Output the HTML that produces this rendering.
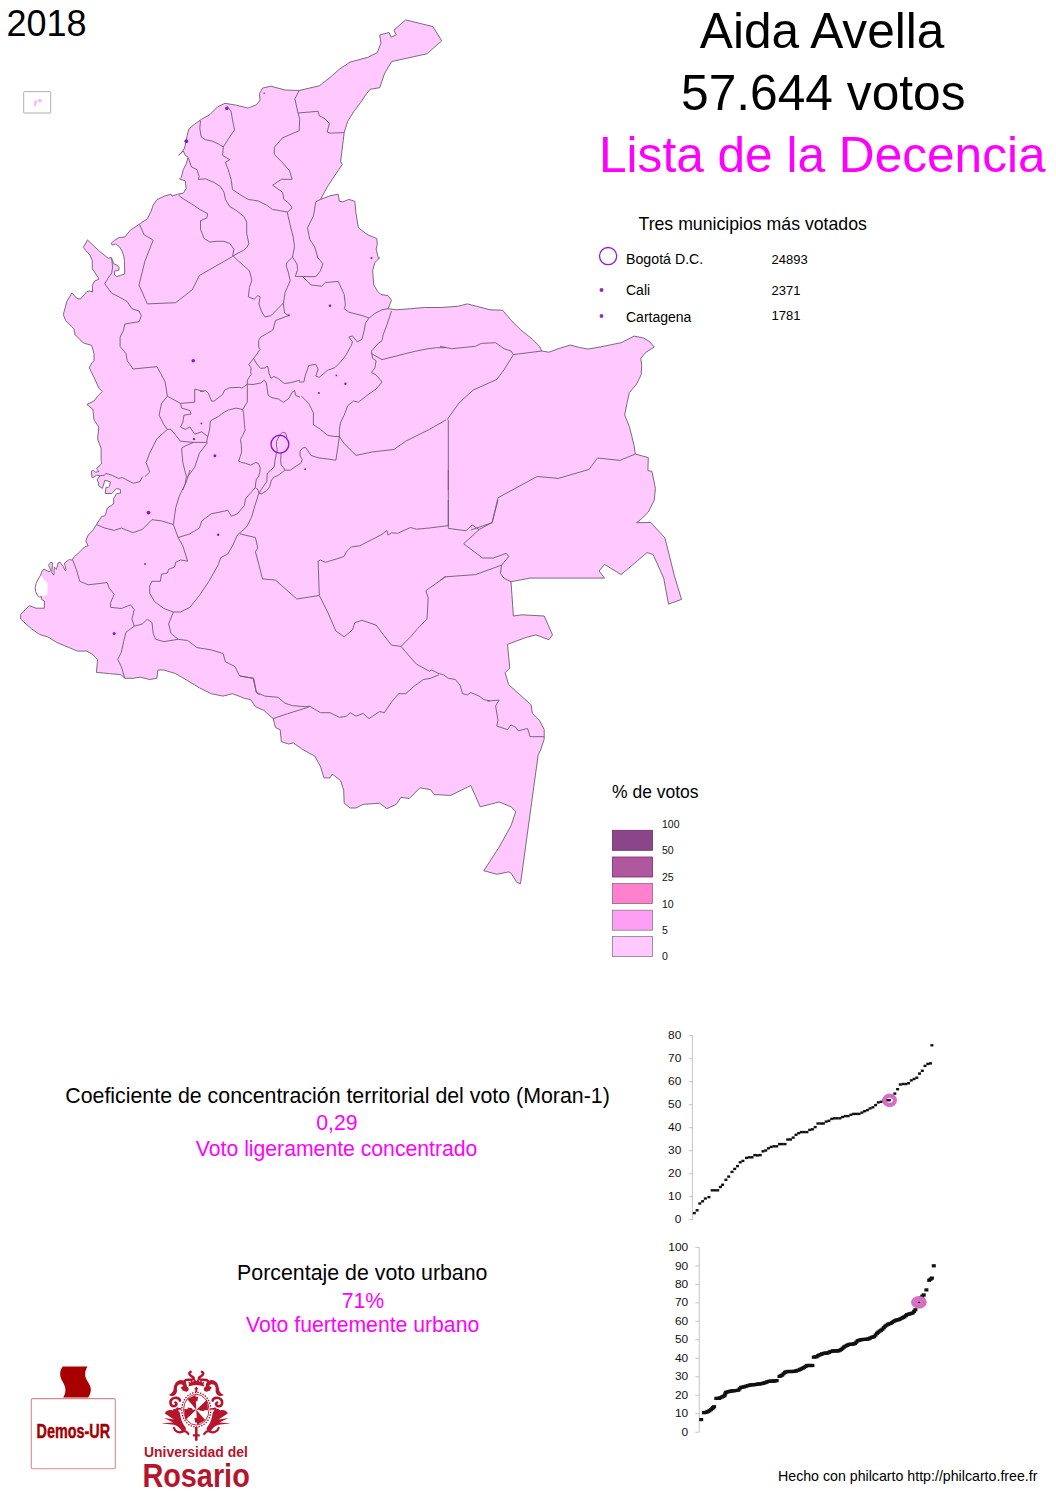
<!DOCTYPE html>
<html><head><meta charset="utf-8"><title>Aida Avella 2018</title>
<style>
html,body{margin:0;padding:0;background:#fff;}
svg{display:block;}
text{font-family:'Liberation Sans', Arial, sans-serif;}
.land{fill:#ffc8ff;stroke:none;}
.lagoon{fill:#fff;stroke:none;}
.coast{fill:none;stroke:#6e5a6e;stroke-width:0.9;stroke-linejoin:round;}
.b{fill:none;stroke:#6e5a6e;stroke-width:0.9;stroke-linejoin:round;}
.ax{font-size:10px;fill:#111;}
.lg{font-size:10.5px;fill:#111;}
</style></head>
<body>
<svg width="1056" height="1493" viewBox="0 0 1056 1493">
<rect width="1056" height="1493" fill="#fff"/>
<text x="6.5" y="35.8" font-size="36">2018</text>
<rect x="23.7" y="91.6" width="27" height="21.4" rx="0.6" fill="none" stroke="#999" stroke-width="0.8"/>
<ellipse cx="35.4" cy="103.3" rx="1.35" ry="3.3" transform="rotate(8 35.4 103.3)" fill="#ffb4ff"/>
<circle cx="39.8" cy="100.6" r="1.9" fill="#ffb4ff"/>
<g id="map">
<polygon class="land" points="249.5,107.5 256.6,104.7 260.1,100 259.4,94 262.5,88.1 270.8,86.2 285,90 299.2,90.5 319.3,85.8 330,77.5 339.4,69.2 350.1,62.1 367.8,57.3 377.3,52.6 380.9,43.1 379.7,34.9 389.1,32.5 391,37.2 396.2,34.9 393.9,30.1 405.7,19.9 432.9,26.6 441.7,40.8 427,53.8 391.5,61.6 384.4,73.9 379.7,87.7 370.2,89.3 365.5,95.2 360.7,102.3 353.6,111.8 347.7,121.3 344.2,132.6 340.6,161.5 342.3,164.4 334.7,175.7 327.6,186.4 320.5,199.4 330,195.8 338.2,194.2 339.4,201.3 343,201.8 348.9,199.4 354.8,201.3 356,213.6 358.4,227.8 367.8,234.9 376.8,238.5 377.3,244.4 376.1,249.1 378.5,258.6 379.7,257.8 374.9,262.5 372.6,270.8 373.8,285 377.3,290.9 380.9,294.5 388,295.6 391.5,300.4 388,308.7 396.2,309.8 410.5,308.7 424.7,307.5 441.2,307.5 457.8,306.3 467.3,303.9 476.7,306.3 490,309.8 502.7,310.3 511,320.2 520.5,329.7 532.3,339.2 539.4,346.3 541.8,351 548.9,352.2 558.4,348.7 570.2,345.1 579.7,347.5 588,349.1 601,346.8 621.1,342.7 634.1,336.1 643.6,338 649.5,341.6 654.3,347 646,352.2 640.8,358.1 641.7,365.2 641.2,374.7 636.5,384.2 629.4,392.5 627,403.1 624.7,414.9 629.4,426.8 631.8,436.2 634.1,445.7 635.3,454 648.3,457.6 647.9,470.6 651.9,471.3 655.4,488.3 654.3,500.2 648.3,512 641.2,519.1 636.5,522.7 650.7,522.5 664.9,537.9 668.5,552.1 674.4,575.8 681.5,599.4 668.5,604.2 663.7,578.1 653.1,554.5 647.1,552.6 621.1,574.6 604.5,564.4 599.1,571 604.5,578.1 530,578.1 511,581.7 513.4,616 521.7,614.8 544.2,616 552.5,634.9 548.9,639.7 535.9,634.9 526.4,637.3 507.5,644.4 509.8,668.1 505.1,672.8 508.7,684.7 531.1,704.8 532.3,713.1 539.4,720.2 544.2,729.6 544.2,739.1 540.6,750 538.2,754.7 520.5,883.7 516.9,882.5 511,873.1 508.7,871.9 496.8,874.3 483.8,870.7 499.2,847 511,825.7 515.8,811.5 511,806.8 499.2,802 480.2,806.8 470.8,785.5 450.7,795.4 434.1,794.5 430.6,789.7 419.9,787.8 409.3,798.5 401,797.3 396.2,804.4 386.8,808.7 379.7,803.2 363.1,804.4 356,808 350.1,808 344.2,803.2 343.7,790.2 340.6,780.7 332.3,774.1 330,777.9 324,777.9 320.5,766.5 314.6,755.9 309.8,753.5 301.6,748.8 293.3,742.9 288.5,744 281.4,741.7 280.2,729.8 275.5,727.5 273.1,718.6 263.7,710.3 255.4,706.7 250.7,699.6 244.7,698.5 242,697.3 232.5,693.7 223.1,696.1 211.2,693.7 199.4,687.8 187.6,680.7 175.7,673.6 163.9,670 158,670 156.8,678.3 149.7,679.5 140.2,677.1 133.1,678.3 124.8,678.3 121.3,674.8 109.4,673.6 96.4,672.4 97.6,659.4 92.9,654.7 86.9,651.1 77.5,651.1 69.2,647.6 57.3,642.8 47.9,636.9 39.6,634.5 31.3,628.6 20.7,619.1 20.7,614.4 25.2,609.7 29.2,605.7 36,608.2 44.3,608.2 44.5,601.1 41.4,599.4 41.4,596.6 39.4,597.2 37.2,594.9 35.5,591.5 35.2,587.5 36,583.5 38.3,579 40.6,575 42,571.3 44,569 47.4,571 49.1,571.6 51.1,570.5 48.5,565.3 50.8,562.2 52.5,562.8 51.9,572.2 52.8,574.4 53.9,575 54.2,567 56.5,569.3 58.2,562.8 59.9,562.2 63.3,566.5 65,570.5 66.1,569.9 64.4,563.1 69.5,559.4 71.8,560.2 74.7,556.2 77.5,554 81,550.5 84.6,546.9 88.1,545.8 85.8,541 88.1,535.1 92.9,530.4 96.4,524.5 101.9,516.2 104.4,516.2 105.6,514.5 107.3,508 113.5,504 113.8,498.1 116.9,493.5 120.6,493.2 120.3,489.5 116.4,488.4 111.8,493.5 105.3,493.5 105.9,487.6 108.4,487.3 109.5,486.1 110.4,481.9 105,480.2 102.4,488.4 98.2,485.3 98.8,483.3 97,479.9 100.2,475.6 96.5,475.3 92.5,477.9 91.9,477 91.4,471.1 93.4,470.2 95.3,472.2 98.8,471.6 96.5,468.5 101.3,464 101.6,462.8 101.1,460.2 101.1,448.3 97.6,438.9 98.8,427 94,419.9 92.9,409.3 86.9,404.5 94,401 97.6,396.2 102.3,391.5 98.8,388 94,377.3 89.3,367.8 91.7,363.1 94,360.7 94,353.6 91.7,345.4 83.4,343 75.1,334.7 73.9,328.8 65.6,320.5 63.3,314.6 66.8,301.6 71.9,292.9 77.1,298.6 80.4,299.1 87,291.5 89.9,291 92.7,292 92.3,285.3 94.6,281.1 98.9,279.2 98.4,277.8 92.3,268.8 92.3,260.7 89.9,255 83.3,247.5 87.5,239.9 98.4,250.3 106,256.5 108.4,258.4 111.2,257.4 112.1,259.8 114,264 116.9,265 119.2,267.8 118.8,270.2 114.5,271.1 114.5,274.9 116.9,276.6 120.2,275.4 124.7,274 124.5,261.7 123.8,256 122.1,251.2 119.2,246.5 115.5,244.1 112.1,245.1 111.2,243.2 114.5,240.4 119.2,237.5 124.9,237 130.3,230.2 138.8,224.5 147.3,218.8 151.1,211.2 153,205.5 156.8,199.8 164.4,196.1 171,194.2 172,196.1 177.7,194.2 183.3,193.2 186.2,188.5 185.2,180.9 179.5,179 181.4,177.1 183.3,169.5 186.2,163.9 188.1,157.2 185.2,155.3 183.3,151 178.6,155.3 181.4,152.5 184.3,148.7 186.2,141.1 187.1,135.5 189,128.8 194.7,124.1 201.3,119.4 209.8,114.6 217.4,107 225,103.3 236.4,105.2 247.7,108"/>
<polygon class="lagoon" points="40.6,575 45.1,581 47.7,583 47.4,594.3 45.1,595.7 41.4,596.3 39.4,597.2 37.2,594.9 35.5,591.5 35.2,587.5 36,583.5 38.3,579"/>
<polyline class="b" points="299.2,90.5 294.9,98.8 298,113 318.1,111.3 319.3,115.8 325.2,118.9 329.5,123.6 327.1,131.9 330,133.1 344.2,132.6"/>
<polyline class="b" points="298,113 299.7,118.9 299.2,130.7 282.6,137.8 274.3,147.3 274.3,154.4 281.4,161.5 289.7,171 292.1,179.3 281.4,179.3 272.7,185.2 282.6,192.3 283.8,199.4 288.5,202.9 292.1,207.7 287.3,212.4"/>
<polyline class="b" points="320.5,199.4 315.8,201.8 313.4,216 307.5,227.8 309.8,239.6 314.6,246.7 318.1,258.6"/>
<polyline class="b" points="287.3,212.4 289.7,223.1 293.3,237.3 294.5,246.7 292.5,257"/>
<polyline class="b" points="111.7,257.9 112.6,267.3 111.7,273 107.9,278.4 104.7,283.8 111.8,293.3 118.9,296.8 127.2,301.6 131.9,308.7 139,311 141.4,315.8 139,321.7 124.8,324 123.6,330 120.1,337.1 120.1,346.5 126,353.6 127.2,360.7 133.1,369 144.9,367.8 156.8,366.7 161.5,374.9 165.1,382 167.4,396.2"/>
<polyline class="b" points="167.4,396.2 161.5,403.4 159.1,415.2 163.9,424.7 167.4,429.4 156.8,438.9 149.7,453.1 146.1,462.5 149.7,472 144.9,476.7"/>
<polyline class="b" points="153.2,240 144.9,261.3 139,285 147.3,303.9 175.7,302.7 192.3,289.7 199.4,275.5 216,266 232.5,256.6"/>
<polyline class="b" points="167.4,396.2 180.5,403.4 194.7,402.2 194.7,389.1 204.1,391.5"/>
<polyline class="b" points="180.5,403.4 181.6,408.1 189.9,410.5 191.1,414 184,415.2 182.8,422.3 180.5,427 185.2,429.4 189.9,427 194.7,434.1 201.8,431.8 207.7,436.5 206.5,442.4 193.5,442.4 185.2,446 181.6,448.3 182.8,462.5 186.4,476.7 185.2,483.8 182.8,490"/>
<polyline class="b" points="167.4,429.4 171,429.4 180.5,441.2 193.5,442.4"/>
<polyline class="b" points="207.7,442.4 199.4,453.1 194.7,467.3 187.6,476.7"/>
<polyline class="b" points="96.4,524.5 104.7,528 114.2,530.4 121.3,528 133.1,532.7 142.6,529.2 152,519.7 161.5,520.9 173.4,524.5"/>
<polyline class="b" points="173.4,524.5 175.7,507.9 179.3,496 186.4,481.8 189.9,470"/>
<polyline class="b" points="173.4,524.5 178.1,537.5 182.8,545.8 187.6,561.1 180.5,560 175.7,562.3 174.5,567.1 168.6,569.4 167.4,573 161.5,574.2 160.3,581.3 152,581.3 149.7,586 149.7,593.1 154.4,601.4 163.9,608.5 173.4,612 180.5,612"/>
<polyline class="b" points="178.1,537.5 189.9,533.9 199.4,528 201.8,520.9 211.2,513.8 223.1,511.4 227.8,510.2 231.4,516.2 237.3,513.8 244.4,505.5"/>
<polyline class="b" points="180.5,612 189.9,607.3 199.4,595.5 208.9,581.3 218.3,564.7 220.7,557.6 227.8,554 232.5,545.8 237.3,535.1 246.7,526.8 251.5,517.3 255,505.5 258.6,493.7"/>
<polyline class="b" points="72.7,560 76.3,569.4 79.8,581.3 88.1,584.8 98.8,583.6 107.1,582.5 109.4,588.4 114.2,594.3 110.6,602.6 110.6,607.3 121.3,608.5 130.7,604.9 134.3,609.7 131.9,619.1 134.3,626.2"/>
<polyline class="b" points="134.3,626.2 142.6,623.9 147.3,619.1 152,622.7 153.2,633.4 155.6,639.3 163.9,641.6 171,640.5 178.1,639.3"/>
<polyline class="b" points="134.3,626.2 126,632.2 123.6,641.6 121.3,652.3 117.7,659.4 121.3,666.5 124.8,678.3"/>
<polyline class="b" points="173.4,612 168.6,623.9 171,633.4 178.1,639.3 187.6,640.5 197,647.6 211.2,649.9 223.1,653.5 225.4,661.8 234.9,666.5 239.6,676 253.8,678.3 256.2,692.5 260,694.9"/>
<polyline class="b" points="233.1,255.9 240,262.5 249.5,270.8 251.8,280.2 249.5,287.3 248.3,296.8 254.2,299.2 257.8,295.6 260.1,296.8 258.9,303.9 261.3,311 264.9,316.9 270.8,315.8 283.8,302.7"/>
<polyline class="b" points="292.5,257 286.8,262.7 286.3,266.1 288.5,273 290.2,280.9 285.1,292.3 283.4,303.6 284.5,312.7 288.5,315.6 275.5,320.5"/>
<polyline class="b" points="299.2,382 303.9,382 305.1,376.1 308.7,365.5 315.8,364.3 318.1,369 315.8,376.1 319.3,377.3 327.6,370.2 334.7,367.8 339.4,363.1 345.4,356 351.3,345.4 352.5,341.8 348.9,337.1 352.5,335.9 357.2,341.8 361.9,339.4 364.3,330 365.5,322.9 369,318.1"/>
<polyline class="b" points="292.5,257 297,263.9 297.6,269.5 295.3,276.4 315.8,276.7 320.5,270.8 322.9,263.7 316.9,256.6"/>
<polyline class="b" points="302.7,276.7 311,285 321.7,286.2 325.2,282.6 338.2,281.4 344.2,294.5 345.4,305.1 344.2,308.7 348.9,312.2 363.1,315.8 369,318.1 374.9,313.4 382,309.8 388,308.7"/>
<polyline class="b" points="391.5,311 386.8,325.2 383.2,334.7 382,340.6 377.3,344.2 371.4,351.3 372.6,358.4 376.1,360.7 374.9,367.8 371.4,372.6 376.1,374.9 382,382 376.1,389.1 369,393.9 363.1,398.6 358.4,402.2 353.6,401 347.7,405.7 344.2,415.2 340.6,422.3 339.4,429.4 339.4,436.5"/>
<polyline class="b" points="371.4,353.6 382,359.6 396.2,356 405.7,353.6 415.2,351.3 427,348.9 436.5,347.7 446,347.7"/>
<polyline class="b" points="301.6,396.2 308.7,403.4 313.4,412.8 313.4,424.7 320.5,429.4 327.6,435.3 334.7,436.5 339.4,436.5"/>
<polyline class="b" points="339.4,436.5 344.2,443.6 356,455.4 372.6,451.9 393.9,449.5 405.7,441.2 419.9,434.1 429.4,429.4 446,419.9"/>
<polyline class="b" points="448.3,419.9 448.3,490"/>
<polyline class="b" points="339.4,436.5 335.9,460.2 327.6,459 318.1,457.8 311,455.4 306.3,448.3"/>
<polyline class="b" points="440,346.3 451.8,348.7 475.5,346.3 481.4,343.4 495.6,342.7 503.9,348.7 511,351 513.4,354.6 541.8,351"/>
<polyline class="b" points="447.1,419.7 458.9,403.1 473.1,390.1 496.8,379.4 503.9,370 513.4,354.6"/>
<polyline class="b" points="470.8,530 492.1,522.7 498,497.8 511,490.7 537.1,476.5 558.4,478.4 589.1,469.4 597.4,458 619.9,460.4 635.3,454"/>
<polyline class="b" points="498,500 492.1,522.5 479.1,529.6 472,524.9 466,530.8 448.3,528.4 448.3,500"/>
<polyline class="b" points="479.1,529.6 463.7,543.8 482.6,558 493.3,558 506.3,553.3 508.7,556.8 501.6,565.1 500.4,573.4 503.9,578.1 511,581.7"/>
<polyline class="b" points="440,580.5 444.7,576.9 475.5,574.6 501.6,565.1"/>
<polyline class="b" points="487.3,701.2 499.2,700 495.6,706 498,720.2 496.8,726.1 507.5,729.6 511,724.9 515.8,727.3 518.1,730.8 527.6,728.5 530,736.7 544.2,736.7"/>
<polyline class="b" points="240,533.9 255.4,537.5 257.8,548.1 255.4,551.7 258.9,564.7 262.5,578.9 275.5,580.1 296.8,599 319.3,595.5"/>
<polyline class="b" points="319.3,595.5 318.1,561.1 320.5,560 325.2,562.3 337.1,558.8 344.2,556.4 346.5,551.7 351.3,546.9 359.6,545.8 371.4,539.8 382,534.4 386.8,530.4 388,535.1 391.5,532.7 397.4,533.4 410.5,527.5 416.4,529.2 429.4,528 448.3,525.6"/>
<polyline class="b" points="448.3,470 448.3,525.6"/>
<polyline class="b" points="446,576.5 425.8,590.7 428.2,597.8 427,619.1 417.6,628.6 410.5,636.9 401,646.4"/>
<polyline class="b" points="319.3,595.5 327.6,612 335.9,631 344.2,636.9 352.5,629.8 354.8,622.7 361.9,620.3 376.1,625.1 383.2,634.5 391.5,645.2 401,646.4"/>
<polyline class="b" points="401,646.4 408.1,654.7 416.4,664.1 429.4,671.2 431.8,670 438.9,673.6 443.6,674.8 448.3,678.3 455.4,679.5 460.2,685.4 462.5,693.7 467.3,694.9 470.8,692.5 479.1,696.1 483.8,699.6 490,700.8"/>
<polyline class="b" points="240,676 253,678.3 256.6,692.5 264.9,696.1 277.9,697.3 285,703.2 292.1,705.6 305.1,706.7 309.8,706.3 320.5,712.7 330,712.7 339.4,717.4 346.5,716.2 350.1,712.7 356,716.2 363.1,713.4 369,718.6 372.6,716.2 379.7,711.5 384.4,712.7 391.5,702 398.6,693.7 405.7,693.7 415.2,685.4 423.5,679.5 430.6,678.3 438.9,674.8"/>
<polyline class="b" points="273.1,718.6 287.3,713.8 306.3,707.9 309.8,706.3"/>
<polyline class="b" points="200.5,120.6 199.8,128.4 201.2,136.9 205.5,139.8 212.6,141.2 218.3,144 223.3,146.9"/>
<polyline class="b" points="226.8,105.7 231.1,111.4 232.5,119.9 234.6,129.8 229.7,136.9 223.3,146.9"/>
<polyline class="b" points="223.3,146.9 222.6,155.4 229.7,159.7 225.4,162.5 228.2,169.6 231.1,179.5 232.5,189.5 241,195.2 248.1,199.4 258.1,200.9 266.6,205.1 272.3,209.4 280.8,210.8 287.9,212.2"/>
<polyline class="b" points="188.5,158.2 191.3,166.8 197,169.6 199.1,176.7 198.4,179.5 205.5,178.8 214,182.4 220.4,186.6 224,192.3 225.4,199.4 229.7,206.5 236.8,210.8 243.9,216.5 246.7,222.2 246.7,233.5 248.8,243.5 246.7,247.7 243.9,250 233.2,255.8"/>
<polyline class="b" points="178.5,195.2 184.2,199.4 191.3,203.7 199.8,209.4 207.6,213.6 206.9,217.9 200.5,220.7 200.5,229.3 204.1,238.5 209.8,242 216.9,241.3 224,241.3 229.7,243.5 233.9,249.1 232.5,256.5"/>
<polyline class="b" points="139.5,224.5 144.2,234.9 152.7,239.7"/>
<polyline class="b" points="275.5,320.5 272.9,330 266.3,333.8 260.6,337.1 258.7,340.4 258.7,347 260.1,349.4 254,357.9 248.8,364.6 251.1,367.9 250.7,371.7 251.1,374.5 249.2,377.3 247.3,380.2 247.3,384.2 247.3,402 242.6,409.5 243.6,413.3 244.5,424.7 245,430"/>
<polyline class="b" points="253.5,358.4 256.8,364.1 260.6,368.4 265.3,367.9 267.2,366 268.2,367.9 269.1,373.6 271,378.3 273.9,376.4 278.6,378.8 284.3,383.5 290.9,382.6 300,380.2"/>
<polyline class="b" points="200,391.6 205.7,390.6 208.5,393.4 211.4,401 214.2,401 222.7,394.4 224.6,390.1 229.4,387.8 239.8,387.3 241.7,388.2 247.3,384.2"/>
<polyline class="b" points="247.3,384.2 253,384.5 260.6,383 264.4,380.2 266.3,383 267.2,388.7 268.2,395.3 272,397.7 278.6,399.1 283.3,402.4 289,398.2 291.9,392.5 294.7,390.6 295.6,395.3 300,397.2"/>
<polyline class="b" points="242.6,409.5 236,408.1 228.4,410 223.7,412.4 218.9,416.2 210.4,420.9 209.5,430 207.7,436.8"/>
<polyline class="b" points="245.1,430 243.2,434.5 240.5,439.5 241.3,445.2 241.7,452 240.2,456.5 238.6,461.1 241.7,462.6 245.5,463.3 250.8,465.2 255.3,462.6 258.3,463.3 260.2,467.9 259.8,472.4 258.3,477 256.4,479.2 255.7,483 255.3,487.6"/>
<polyline class="b" points="255.3,487.6 250,493.6 245.5,498.9 244.4,505.5"/>
<polyline class="b" points="255.3,487.6 258,489.8 259.1,493.6"/>
<polyline class="b" points="276.5,452.7 275,460.3 274.2,467.1 270.5,470.2 267.4,473.2 267,477 266.7,481.5 263.6,486.1 260.6,490.6 259.1,493.6"/>
<polyline class="b" points="306.3,448.3 305,447.4 302.3,448.2 300,451.2 300,455.8 302.3,459.5 300.8,463.3 296.2,466 290.2,470.2 284.8,470.2 283.7,467.9 281.1,464.8 280.7,460.3 281.1,452.7"/>
<polyline class="b" points="284.8,470.2 281.1,473.2 278,475.5 274.2,477 271.6,480 270.5,483 269.7,486.8 266.7,490.6 262.1,493.6 259.1,493.6"/>
<polyline class="b" points="287.1,437.6 285.6,433 282.6,432.3 280.7,433.8 278,438.3 276.5,441.4 276.5,445.2 277.3,450.5 276.5,452.7"/>
<polyline class="b" points="100.2,475.6 104.4,475.3 105.9,473.4 112.1,475.3 118.6,478.5 122.3,477.6 125.5,479.3 133.4,483.3 140,481.6 142.5,476.7"/>
<polygon class="coast" points="249.5,107.5 256.6,104.7 260.1,100 259.4,94 262.5,88.1 270.8,86.2 285,90 299.2,90.5 319.3,85.8 330,77.5 339.4,69.2 350.1,62.1 367.8,57.3 377.3,52.6 380.9,43.1 379.7,34.9 389.1,32.5 391,37.2 396.2,34.9 393.9,30.1 405.7,19.9 432.9,26.6 441.7,40.8 427,53.8 391.5,61.6 384.4,73.9 379.7,87.7 370.2,89.3 365.5,95.2 360.7,102.3 353.6,111.8 347.7,121.3 344.2,132.6 340.6,161.5 342.3,164.4 334.7,175.7 327.6,186.4 320.5,199.4 330,195.8 338.2,194.2 339.4,201.3 343,201.8 348.9,199.4 354.8,201.3 356,213.6 358.4,227.8 367.8,234.9 376.8,238.5 377.3,244.4 376.1,249.1 378.5,258.6 379.7,257.8 374.9,262.5 372.6,270.8 373.8,285 377.3,290.9 380.9,294.5 388,295.6 391.5,300.4 388,308.7 396.2,309.8 410.5,308.7 424.7,307.5 441.2,307.5 457.8,306.3 467.3,303.9 476.7,306.3 490,309.8 502.7,310.3 511,320.2 520.5,329.7 532.3,339.2 539.4,346.3 541.8,351 548.9,352.2 558.4,348.7 570.2,345.1 579.7,347.5 588,349.1 601,346.8 621.1,342.7 634.1,336.1 643.6,338 649.5,341.6 654.3,347 646,352.2 640.8,358.1 641.7,365.2 641.2,374.7 636.5,384.2 629.4,392.5 627,403.1 624.7,414.9 629.4,426.8 631.8,436.2 634.1,445.7 635.3,454 648.3,457.6 647.9,470.6 651.9,471.3 655.4,488.3 654.3,500.2 648.3,512 641.2,519.1 636.5,522.7 650.7,522.5 664.9,537.9 668.5,552.1 674.4,575.8 681.5,599.4 668.5,604.2 663.7,578.1 653.1,554.5 647.1,552.6 621.1,574.6 604.5,564.4 599.1,571 604.5,578.1 530,578.1 511,581.7 513.4,616 521.7,614.8 544.2,616 552.5,634.9 548.9,639.7 535.9,634.9 526.4,637.3 507.5,644.4 509.8,668.1 505.1,672.8 508.7,684.7 531.1,704.8 532.3,713.1 539.4,720.2 544.2,729.6 544.2,739.1 540.6,750 538.2,754.7 520.5,883.7 516.9,882.5 511,873.1 508.7,871.9 496.8,874.3 483.8,870.7 499.2,847 511,825.7 515.8,811.5 511,806.8 499.2,802 480.2,806.8 470.8,785.5 450.7,795.4 434.1,794.5 430.6,789.7 419.9,787.8 409.3,798.5 401,797.3 396.2,804.4 386.8,808.7 379.7,803.2 363.1,804.4 356,808 350.1,808 344.2,803.2 343.7,790.2 340.6,780.7 332.3,774.1 330,777.9 324,777.9 320.5,766.5 314.6,755.9 309.8,753.5 301.6,748.8 293.3,742.9 288.5,744 281.4,741.7 280.2,729.8 275.5,727.5 273.1,718.6 263.7,710.3 255.4,706.7 250.7,699.6 244.7,698.5 242,697.3 232.5,693.7 223.1,696.1 211.2,693.7 199.4,687.8 187.6,680.7 175.7,673.6 163.9,670 158,670 156.8,678.3 149.7,679.5 140.2,677.1 133.1,678.3 124.8,678.3 121.3,674.8 109.4,673.6 96.4,672.4 97.6,659.4 92.9,654.7 86.9,651.1 77.5,651.1 69.2,647.6 57.3,642.8 47.9,636.9 39.6,634.5 31.3,628.6 20.7,619.1 20.7,614.4 25.2,609.7 29.2,605.7 36,608.2 44.3,608.2 44.5,601.1 41.4,599.4 41.4,596.6 39.4,597.2 37.2,594.9 35.5,591.5 35.2,587.5 36,583.5 38.3,579 40.6,575 42,571.3 44,569 47.4,571 49.1,571.6 51.1,570.5 48.5,565.3 50.8,562.2 52.5,562.8 51.9,572.2 52.8,574.4 53.9,575 54.2,567 56.5,569.3 58.2,562.8 59.9,562.2 63.3,566.5 65,570.5 66.1,569.9 64.4,563.1 69.5,559.4 71.8,560.2 74.7,556.2 77.5,554 81,550.5 84.6,546.9 88.1,545.8 85.8,541 88.1,535.1 92.9,530.4 96.4,524.5 101.9,516.2 104.4,516.2 105.6,514.5 107.3,508 113.5,504 113.8,498.1 116.9,493.5 120.6,493.2 120.3,489.5 116.4,488.4 111.8,493.5 105.3,493.5 105.9,487.6 108.4,487.3 109.5,486.1 110.4,481.9 105,480.2 102.4,488.4 98.2,485.3 98.8,483.3 97,479.9 100.2,475.6 96.5,475.3 92.5,477.9 91.9,477 91.4,471.1 93.4,470.2 95.3,472.2 98.8,471.6 96.5,468.5 101.3,464 101.6,462.8 101.1,460.2 101.1,448.3 97.6,438.9 98.8,427 94,419.9 92.9,409.3 86.9,404.5 94,401 97.6,396.2 102.3,391.5 98.8,388 94,377.3 89.3,367.8 91.7,363.1 94,360.7 94,353.6 91.7,345.4 83.4,343 75.1,334.7 73.9,328.8 65.6,320.5 63.3,314.6 66.8,301.6 71.9,292.9 77.1,298.6 80.4,299.1 87,291.5 89.9,291 92.7,292 92.3,285.3 94.6,281.1 98.9,279.2 98.4,277.8 92.3,268.8 92.3,260.7 89.9,255 83.3,247.5 87.5,239.9 98.4,250.3 106,256.5 108.4,258.4 111.2,257.4 112.1,259.8 114,264 116.9,265 119.2,267.8 118.8,270.2 114.5,271.1 114.5,274.9 116.9,276.6 120.2,275.4 124.7,274 124.5,261.7 123.8,256 122.1,251.2 119.2,246.5 115.5,244.1 112.1,245.1 111.2,243.2 114.5,240.4 119.2,237.5 124.9,237 130.3,230.2 138.8,224.5 147.3,218.8 151.1,211.2 153,205.5 156.8,199.8 164.4,196.1 171,194.2 172,196.1 177.7,194.2 183.3,193.2 186.2,188.5 185.2,180.9 179.5,179 181.4,177.1 183.3,169.5 186.2,163.9 188.1,157.2 185.2,155.3 183.3,151 178.6,155.3 181.4,152.5 184.3,148.7 186.2,141.1 187.1,135.5 189,128.8 194.7,124.1 201.3,119.4 209.8,114.6 217.4,107 225,103.3 236.4,105.2 247.7,108"/>
</g>
<g fill="#8c14d2">
<circle cx="279.9" cy="444.2" r="8.9" fill="none" stroke="#8c14d2" stroke-width="1.4"/>
<circle cx="148.5" cy="512.6" r="1.9"/>
<circle cx="193.2" cy="360.7" r="1.8"/>
<circle cx="186.3" cy="141.2" r="1.9"/>
<circle cx="226.8" cy="108.5" r="1.7"/>
<circle cx="114.2" cy="633.4" r="1.5"/>
<circle cx="218.2" cy="534.7" r="1.2"/>
<circle cx="345.4" cy="383.8" r="1.2"/>
<circle cx="330" cy="305.7" r="1.3"/>
<circle cx="214.9" cy="455.8" r="1.5"/>
<circle cx="194" cy="439.1" r="1.2"/>
<circle cx="201.4" cy="423.4" r="0.9"/>
<circle cx="145" cy="564" r="0.9"/>
<circle cx="264.1" cy="93.3" r="0.8"/>
<circle cx="371.5" cy="258" r="1.0"/>
<circle cx="288.9" cy="315.2" r="1.0"/>
<circle cx="318.9" cy="393" r="1.0"/>
<circle cx="336.4" cy="375.4" r="0.9"/>
<circle cx="305.1" cy="469.2" r="0.9"/>
</g>
<text x="822.1" y="48.1" font-size="49.6" text-anchor="middle">Aida Avella</text>
<text x="823.3" y="109.6" font-size="49.7" text-anchor="middle">57.644 votos</text>
<text x="822.3" y="171.6" font-size="49.6" text-anchor="middle" fill="#ff00ff">Lista de la Decencia</text>
<text x="638.5" y="230.3" font-size="17.7">Tres municipios más votados</text>
<circle cx="608.1" cy="256.1" r="8.6" fill="none" stroke="#9020d8" stroke-width="1.3"/>
<circle cx="601.5" cy="290.1" r="2" fill="#9426d8"/>
<circle cx="601.5" cy="316" r="1.9" fill="#9426d8"/>
<text x="626" y="263.5" font-size="14.2">Bogotá D.C.</text>
<text x="626" y="294.8" font-size="14">Cali</text>
<text x="626" y="321.7" font-size="14">Cartagena</text>
<text x="771.5" y="263.5" font-size="13">24893</text>
<text x="771.5" y="294.8" font-size="13">2371</text>
<text x="771.5" y="320.3" font-size="13">1781</text>
<text x="612" y="797.5" font-size="17.5">% de votos</text>
<rect x="612.5" y="830.3" width="40" height="20" fill="#8b4589" stroke="#6a2a68" stroke-width="0.8"/>
<rect x="612.5" y="857" width="40" height="20" fill="#b0589e" stroke="#7a2a6a" stroke-width="0.8"/>
<rect x="612.5" y="883.6" width="40" height="20" fill="#ff80cc" stroke="#8a6a7a" stroke-width="0.8"/>
<rect x="612.5" y="910.2" width="40" height="20" fill="#ff9ef5" stroke="#8a7a8a" stroke-width="0.8"/>
<rect x="612.5" y="936.5" width="40" height="20" fill="#ffc8ff" stroke="#8a7a8a" stroke-width="0.8"/>
<text x="662" y="828" class="lg">100</text>
<text x="662" y="854.4" class="lg">50</text>
<text x="662" y="880.9" class="lg">25</text>
<text x="662" y="907.5" class="lg">10</text>
<text x="662" y="934" class="lg">5</text>
<text x="662" y="960.2" class="lg">0</text>
<text x="337.5" y="1102.9" font-size="21.35" text-anchor="middle">Coeficiente de concentración territorial del voto (Moran-1)</text>
<text x="336.9" y="1130.1" font-size="21.2" text-anchor="middle" fill="#ff00ff">0,29</text>
<text x="336.6" y="1155.7" font-size="21.2" text-anchor="middle" fill="#ff00ff">Voto ligeramente concentrado</text>
<text x="362.3" y="1279.8" font-size="21.35" text-anchor="middle">Porcentaje de voto urbano</text>
<text x="363" y="1307.6" font-size="21.2" text-anchor="middle" fill="#ff00ff">71%</text>
<text x="362.6" y="1332.2" font-size="21.2" text-anchor="middle" fill="#ff00ff">Voto fuertemente urbano</text>
<g fill="#111">
<line x1="692.4" y1="1035.1" x2="692.4" y2="1220" stroke="#c4c4c4" stroke-width="1"/>
<line x1="688.8" y1="1219.7" x2="692.4" y2="1219.7" stroke="#c4c4c4" stroke-width="1"/>
<text transform="translate(681.3 1223.3) scale(1.19 1)" text-anchor="end" class="ax">0</text>
<line x1="688.8" y1="1196.7" x2="692.4" y2="1196.7" stroke="#c4c4c4" stroke-width="1"/>
<text transform="translate(681.3 1200.3) scale(1.19 1)" text-anchor="end" class="ax">10</text>
<line x1="688.8" y1="1173.7" x2="692.4" y2="1173.7" stroke="#c4c4c4" stroke-width="1"/>
<text transform="translate(681.3 1177.3) scale(1.19 1)" text-anchor="end" class="ax">20</text>
<line x1="688.8" y1="1150.7" x2="692.4" y2="1150.7" stroke="#c4c4c4" stroke-width="1"/>
<text transform="translate(681.3 1154.3) scale(1.19 1)" text-anchor="end" class="ax">30</text>
<line x1="688.8" y1="1127.7" x2="692.4" y2="1127.7" stroke="#c4c4c4" stroke-width="1"/>
<text transform="translate(681.3 1131.3) scale(1.19 1)" text-anchor="end" class="ax">40</text>
<line x1="688.8" y1="1104.7" x2="692.4" y2="1104.7" stroke="#c4c4c4" stroke-width="1"/>
<text transform="translate(681.3 1108.3) scale(1.19 1)" text-anchor="end" class="ax">50</text>
<line x1="688.8" y1="1081.7" x2="692.4" y2="1081.7" stroke="#c4c4c4" stroke-width="1"/>
<text transform="translate(681.3 1085.3) scale(1.19 1)" text-anchor="end" class="ax">60</text>
<line x1="688.8" y1="1058.7" x2="692.4" y2="1058.7" stroke="#c4c4c4" stroke-width="1"/>
<text transform="translate(681.3 1062.3) scale(1.19 1)" text-anchor="end" class="ax">70</text>
<line x1="688.8" y1="1035.7" x2="692.4" y2="1035.7" stroke="#c4c4c4" stroke-width="1"/>
<text transform="translate(681.3 1039.3) scale(1.19 1)" text-anchor="end" class="ax">80</text>
<rect x="692.8" y="1211.9" width="3" height="2.4"/>
<rect x="695.6" y="1209.1" width="3" height="2.4"/>
<rect x="698.3" y="1202.3" width="3" height="2.4"/>
<rect x="701.1" y="1200.1" width="3" height="2.4"/>
<rect x="703.8" y="1197.3" width="3" height="2.4"/>
<rect x="707.4" y="1195.9" width="3" height="2.4"/>
<rect x="710.7" y="1189.1" width="3" height="2.4"/>
<rect x="713.4" y="1189.1" width="3" height="2.4"/>
<rect x="716.2" y="1189.1" width="3" height="2.4"/>
<rect x="718.9" y="1185.8" width="3" height="2.4"/>
<rect x="721.1" y="1183.6" width="3" height="2.4"/>
<rect x="724.4" y="1178.6" width="3" height="2.4"/>
<rect x="727.2" y="1175.4" width="3" height="2.4"/>
<rect x="730.5" y="1170.7" width="3" height="2.4"/>
<rect x="733.2" y="1167.7" width="3" height="2.4"/>
<rect x="736.0" y="1164.9" width="3" height="2.4"/>
<rect x="738.7" y="1161.1" width="3" height="2.4"/>
<rect x="741.4" y="1159.7" width="3" height="2.4"/>
<rect x="745.0" y="1156.7" width="3" height="2.4"/>
<rect x="747.8" y="1156.1" width="3" height="2.4"/>
<rect x="750.5" y="1156.1" width="3" height="2.4"/>
<rect x="753.3" y="1153.9" width="3" height="2.4"/>
<rect x="756.0" y="1154.2" width="3" height="2.4"/>
<rect x="758.7" y="1153.9" width="3" height="2.4"/>
<rect x="761.5" y="1150.1" width="3" height="2.4"/>
<rect x="764.2" y="1149.3" width="3" height="2.4"/>
<rect x="767.0" y="1147.1" width="3" height="2.4"/>
<rect x="769.7" y="1145.7" width="3" height="2.4"/>
<rect x="772.5" y="1145.1" width="3" height="2.4"/>
<rect x="775.2" y="1145.1" width="3" height="2.4"/>
<rect x="778.0" y="1142.9" width="3" height="2.4"/>
<rect x="780.7" y="1142.9" width="3" height="2.4"/>
<rect x="783.5" y="1142.9" width="3" height="2.4"/>
<rect x="786.2" y="1138.3" width="3" height="2.4"/>
<rect x="789.0" y="1138.3" width="3" height="2.4"/>
<rect x="791.7" y="1136.4" width="3" height="2.4"/>
<rect x="794.5" y="1133.6" width="3" height="2.4"/>
<rect x="797.2" y="1132.0" width="3" height="2.4"/>
<rect x="799.9" y="1130.9" width="3" height="2.4"/>
<rect x="802.7" y="1130.9" width="3" height="2.4"/>
<rect x="805.4" y="1130.9" width="3" height="2.4"/>
<rect x="808.2" y="1128.7" width="3" height="2.4"/>
<rect x="810.9" y="1128.1" width="3" height="2.4"/>
<rect x="813.7" y="1125.9" width="3" height="2.4"/>
<rect x="816.4" y="1122.3" width="3" height="2.4"/>
<rect x="819.2" y="1122.3" width="3" height="2.4"/>
<rect x="821.9" y="1122.3" width="3" height="2.4"/>
<rect x="824.7" y="1120.4" width="3" height="2.4"/>
<rect x="827.4" y="1119.6" width="3" height="2.4"/>
<rect x="830.2" y="1117.7" width="3" height="2.4"/>
<rect x="832.9" y="1117.1" width="3" height="2.4"/>
<rect x="835.6" y="1117.1" width="3" height="2.4"/>
<rect x="838.4" y="1117.1" width="3" height="2.4"/>
<rect x="841.1" y="1115.8" width="3" height="2.4"/>
<rect x="843.9" y="1114.9" width="3" height="2.4"/>
<rect x="846.6" y="1114.9" width="3" height="2.4"/>
<rect x="849.4" y="1113.6" width="3" height="2.4"/>
<rect x="852.1" y="1112.7" width="3" height="2.4"/>
<rect x="854.9" y="1112.7" width="3" height="2.4"/>
<rect x="857.6" y="1112.7" width="3" height="2.4"/>
<rect x="860.4" y="1111.4" width="3" height="2.4"/>
<rect x="863.1" y="1110.0" width="3" height="2.4"/>
<rect x="865.9" y="1108.9" width="3" height="2.4"/>
<rect x="868.6" y="1107.2" width="3" height="2.4"/>
<rect x="871.4" y="1106.1" width="3" height="2.4"/>
<rect x="874.1" y="1103.9" width="3" height="2.4"/>
<rect x="876.8" y="1101.2" width="3" height="2.4"/>
<rect x="879.6" y="1100.6" width="3" height="2.4"/>
<rect x="882.3" y="1099.3" width="3" height="2.4"/>
<rect x="885.1" y="1099.0" width="3" height="2.4"/>
<rect x="887.8" y="1099.0" width="3" height="2.4"/>
<rect x="890.6" y="1095.7" width="3" height="2.4"/>
<rect x="893.3" y="1092.4" width="3" height="2.4"/>
<rect x="896.1" y="1088.0" width="3" height="2.4"/>
<rect x="898.8" y="1083.3" width="3" height="2.4"/>
<rect x="901.6" y="1082.8" width="3" height="2.4"/>
<rect x="904.3" y="1082.8" width="3" height="2.4"/>
<rect x="907.1" y="1082.0" width="3" height="2.4"/>
<rect x="909.8" y="1079.2" width="3" height="2.4"/>
<rect x="912.6" y="1077.8" width="3" height="2.4"/>
<rect x="915.3" y="1076.5" width="3" height="2.4"/>
<rect x="918.0" y="1072.4" width="3" height="2.4"/>
<rect x="920.8" y="1069.6" width="3" height="2.4"/>
<rect x="923.5" y="1064.7" width="3" height="2.4"/>
<rect x="926.3" y="1062.7" width="3" height="2.4"/>
<rect x="929.0" y="1062.2" width="3" height="2.4"/>
<rect x="930.4" y="1044.1" width="3" height="2.4"/>
<ellipse cx="889.6" cy="1100.3" rx="5.3" ry="4.6" fill="none" stroke="#d46ec4" stroke-width="4.2"/>
</g>
<g fill="#111">
<line x1="699.3" y1="1247.4" x2="699.3" y2="1432.2" stroke="#c4c4c4" stroke-width="1"/>
<line x1="695.3" y1="1432.2" x2="699.3" y2="1432.2" stroke="#c4c4c4" stroke-width="1"/>
<text transform="translate(688.2 1435.8) scale(1.19 1)" text-anchor="end" class="ax">0</text>
<line x1="695.3" y1="1413.7" x2="699.3" y2="1413.7" stroke="#c4c4c4" stroke-width="1"/>
<text transform="translate(688.2 1417.3) scale(1.19 1)" text-anchor="end" class="ax">10</text>
<line x1="695.3" y1="1395.2" x2="699.3" y2="1395.2" stroke="#c4c4c4" stroke-width="1"/>
<text transform="translate(688.2 1398.8) scale(1.19 1)" text-anchor="end" class="ax">20</text>
<line x1="695.3" y1="1376.8" x2="699.3" y2="1376.8" stroke="#c4c4c4" stroke-width="1"/>
<text transform="translate(688.2 1380.4) scale(1.19 1)" text-anchor="end" class="ax">30</text>
<line x1="695.3" y1="1358.3" x2="699.3" y2="1358.3" stroke="#c4c4c4" stroke-width="1"/>
<text transform="translate(688.2 1361.9) scale(1.19 1)" text-anchor="end" class="ax">40</text>
<line x1="695.3" y1="1339.8" x2="699.3" y2="1339.8" stroke="#c4c4c4" stroke-width="1"/>
<text transform="translate(688.2 1343.4) scale(1.19 1)" text-anchor="end" class="ax">50</text>
<line x1="695.3" y1="1321.3" x2="699.3" y2="1321.3" stroke="#c4c4c4" stroke-width="1"/>
<text transform="translate(688.2 1324.9) scale(1.19 1)" text-anchor="end" class="ax">60</text>
<line x1="695.3" y1="1302.8" x2="699.3" y2="1302.8" stroke="#c4c4c4" stroke-width="1"/>
<text transform="translate(688.2 1306.4) scale(1.19 1)" text-anchor="end" class="ax">70</text>
<line x1="695.3" y1="1284.4" x2="699.3" y2="1284.4" stroke="#c4c4c4" stroke-width="1"/>
<text transform="translate(688.2 1288.0) scale(1.19 1)" text-anchor="end" class="ax">80</text>
<line x1="695.3" y1="1265.9" x2="699.3" y2="1265.9" stroke="#c4c4c4" stroke-width="1"/>
<text transform="translate(688.2 1269.5) scale(1.19 1)" text-anchor="end" class="ax">90</text>
<line x1="695.3" y1="1247.4" x2="699.3" y2="1247.4" stroke="#c4c4c4" stroke-width="1"/>
<text transform="translate(688.2 1251.0) scale(1.19 1)" text-anchor="end" class="ax">100</text>
<rect x="699.2" y="1418.0" width="4" height="3.2"/>
<rect x="701.9" y="1411.1" width="4" height="3.2"/>
<rect x="703.3" y="1410.8" width="4" height="3.2"/>
<rect x="704.7" y="1410.5" width="4" height="3.2"/>
<rect x="706.1" y="1409.9" width="4" height="3.2"/>
<rect x="707.4" y="1409.2" width="4" height="3.2"/>
<rect x="708.8" y="1408.1" width="4" height="3.2"/>
<rect x="710.2" y="1407.0" width="4" height="3.2"/>
<rect x="711.1" y="1406.0" width="4" height="3.2"/>
<rect x="712.1" y="1405.1" width="4" height="3.2"/>
<rect x="714.3" y="1396.8" width="4" height="3.2"/>
<rect x="715.7" y="1396.8" width="4" height="3.2"/>
<rect x="717.0" y="1396.8" width="4" height="3.2"/>
<rect x="718.4" y="1396.1" width="4" height="3.2"/>
<rect x="719.8" y="1395.4" width="4" height="3.2"/>
<rect x="721.2" y="1394.8" width="4" height="3.2"/>
<rect x="722.5" y="1394.1" width="4" height="3.2"/>
<rect x="723.2" y="1392.4" width="4" height="3.2"/>
<rect x="723.9" y="1390.8" width="4" height="3.2"/>
<rect x="725.3" y="1390.4" width="4" height="3.2"/>
<rect x="726.7" y="1390.0" width="4" height="3.2"/>
<rect x="728.0" y="1389.7" width="4" height="3.2"/>
<rect x="729.4" y="1389.4" width="4" height="3.2"/>
<rect x="730.8" y="1389.3" width="4" height="3.2"/>
<rect x="732.2" y="1389.1" width="4" height="3.2"/>
<rect x="734.2" y="1388.9" width="4" height="3.2"/>
<rect x="736.3" y="1388.6" width="4" height="3.2"/>
<rect x="737.6" y="1387.2" width="4" height="3.2"/>
<rect x="739.0" y="1385.8" width="4" height="3.2"/>
<rect x="740.4" y="1385.6" width="4" height="3.2"/>
<rect x="741.8" y="1385.3" width="4" height="3.2"/>
<rect x="743.1" y="1384.9" width="4" height="3.2"/>
<rect x="744.5" y="1384.5" width="4" height="3.2"/>
<rect x="745.9" y="1384.0" width="4" height="3.2"/>
<rect x="747.3" y="1383.6" width="4" height="3.2"/>
<rect x="748.6" y="1383.4" width="4" height="3.2"/>
<rect x="750.0" y="1383.1" width="4" height="3.2"/>
<rect x="751.4" y="1383.1" width="4" height="3.2"/>
<rect x="752.8" y="1383.1" width="4" height="3.2"/>
<rect x="754.1" y="1382.8" width="4" height="3.2"/>
<rect x="755.5" y="1382.5" width="4" height="3.2"/>
<rect x="756.9" y="1382.4" width="4" height="3.2"/>
<rect x="758.2" y="1382.3" width="4" height="3.2"/>
<rect x="759.6" y="1382.0" width="4" height="3.2"/>
<rect x="761.0" y="1381.7" width="4" height="3.2"/>
<rect x="762.4" y="1381.3" width="4" height="3.2"/>
<rect x="763.7" y="1380.9" width="4" height="3.2"/>
<rect x="765.1" y="1380.3" width="4" height="3.2"/>
<rect x="766.5" y="1379.8" width="4" height="3.2"/>
<rect x="767.9" y="1379.7" width="4" height="3.2"/>
<rect x="769.2" y="1379.5" width="4" height="3.2"/>
<rect x="770.6" y="1379.5" width="4" height="3.2"/>
<rect x="772.0" y="1379.5" width="4" height="3.2"/>
<rect x="773.4" y="1379.2" width="4" height="3.2"/>
<rect x="774.7" y="1379.0" width="4" height="3.2"/>
<rect x="777.5" y="1374.8" width="4" height="3.2"/>
<rect x="778.8" y="1374.2" width="4" height="3.2"/>
<rect x="780.2" y="1373.5" width="4" height="3.2"/>
<rect x="781.6" y="1372.1" width="4" height="3.2"/>
<rect x="783.0" y="1370.7" width="4" height="3.2"/>
<rect x="784.3" y="1370.3" width="4" height="3.2"/>
<rect x="785.7" y="1369.9" width="4" height="3.2"/>
<rect x="787.1" y="1369.9" width="4" height="3.2"/>
<rect x="788.5" y="1369.9" width="4" height="3.2"/>
<rect x="789.8" y="1369.9" width="4" height="3.2"/>
<rect x="791.2" y="1369.9" width="4" height="3.2"/>
<rect x="792.6" y="1369.6" width="4" height="3.2"/>
<rect x="794.0" y="1369.4" width="4" height="3.2"/>
<rect x="795.3" y="1368.9" width="4" height="3.2"/>
<rect x="796.7" y="1368.5" width="4" height="3.2"/>
<rect x="798.1" y="1367.8" width="4" height="3.2"/>
<rect x="799.4" y="1367.2" width="4" height="3.2"/>
<rect x="800.8" y="1366.5" width="4" height="3.2"/>
<rect x="802.2" y="1365.8" width="4" height="3.2"/>
<rect x="803.6" y="1364.8" width="4" height="3.2"/>
<rect x="804.9" y="1363.9" width="4" height="3.2"/>
<rect x="806.3" y="1363.9" width="4" height="3.2"/>
<rect x="807.7" y="1363.9" width="4" height="3.2"/>
<rect x="809.1" y="1363.9" width="4" height="3.2"/>
<rect x="810.4" y="1363.9" width="4" height="3.2"/>
<rect x="811.8" y="1355.6" width="4" height="3.2"/>
<rect x="813.2" y="1355.3" width="4" height="3.2"/>
<rect x="814.6" y="1355.1" width="4" height="3.2"/>
<rect x="815.9" y="1354.2" width="4" height="3.2"/>
<rect x="817.3" y="1353.4" width="4" height="3.2"/>
<rect x="818.7" y="1352.9" width="4" height="3.2"/>
<rect x="820.0" y="1352.3" width="4" height="3.2"/>
<rect x="821.4" y="1351.9" width="4" height="3.2"/>
<rect x="822.8" y="1351.5" width="4" height="3.2"/>
<rect x="824.2" y="1351.5" width="4" height="3.2"/>
<rect x="825.5" y="1351.5" width="4" height="3.2"/>
<rect x="826.9" y="1350.8" width="4" height="3.2"/>
<rect x="828.3" y="1350.1" width="4" height="3.2"/>
<rect x="829.7" y="1349.7" width="4" height="3.2"/>
<rect x="831.0" y="1349.3" width="4" height="3.2"/>
<rect x="832.4" y="1349.3" width="4" height="3.2"/>
<rect x="833.8" y="1349.3" width="4" height="3.2"/>
<rect x="835.1" y="1349.3" width="4" height="3.2"/>
<rect x="836.5" y="1349.3" width="4" height="3.2"/>
<rect x="837.9" y="1348.6" width="4" height="3.2"/>
<rect x="839.3" y="1347.9" width="4" height="3.2"/>
<rect x="840.6" y="1346.7" width="4" height="3.2"/>
<rect x="842.0" y="1345.5" width="4" height="3.2"/>
<rect x="843.4" y="1344.6" width="4" height="3.2"/>
<rect x="844.8" y="1343.8" width="4" height="3.2"/>
<rect x="846.1" y="1343.3" width="4" height="3.2"/>
<rect x="847.5" y="1342.7" width="4" height="3.2"/>
<rect x="848.9" y="1342.7" width="4" height="3.2"/>
<rect x="850.3" y="1342.7" width="4" height="3.2"/>
<rect x="851.6" y="1342.3" width="4" height="3.2"/>
<rect x="853.0" y="1341.9" width="4" height="3.2"/>
<rect x="854.4" y="1340.5" width="4" height="3.2"/>
<rect x="855.7" y="1339.1" width="4" height="3.2"/>
<rect x="857.1" y="1338.7" width="4" height="3.2"/>
<rect x="858.5" y="1338.3" width="4" height="3.2"/>
<rect x="859.9" y="1338.0" width="4" height="3.2"/>
<rect x="861.2" y="1337.8" width="4" height="3.2"/>
<rect x="862.6" y="1337.8" width="4" height="3.2"/>
<rect x="864.0" y="1337.8" width="4" height="3.2"/>
<rect x="865.4" y="1337.5" width="4" height="3.2"/>
<rect x="866.7" y="1337.2" width="4" height="3.2"/>
<rect x="868.1" y="1336.5" width="4" height="3.2"/>
<rect x="869.5" y="1335.8" width="4" height="3.2"/>
<rect x="870.9" y="1335.4" width="4" height="3.2"/>
<rect x="872.2" y="1335.0" width="4" height="3.2"/>
<rect x="873.6" y="1333.4" width="4" height="3.2"/>
<rect x="875.0" y="1331.7" width="4" height="3.2"/>
<rect x="876.3" y="1330.6" width="4" height="3.2"/>
<rect x="877.7" y="1329.5" width="4" height="3.2"/>
<rect x="879.1" y="1328.6" width="4" height="3.2"/>
<rect x="880.5" y="1327.6" width="4" height="3.2"/>
<rect x="881.8" y="1326.1" width="4" height="3.2"/>
<rect x="883.2" y="1324.6" width="4" height="3.2"/>
<rect x="884.6" y="1323.6" width="4" height="3.2"/>
<rect x="886.0" y="1322.7" width="4" height="3.2"/>
<rect x="887.3" y="1322.2" width="4" height="3.2"/>
<rect x="888.7" y="1321.8" width="4" height="3.2"/>
<rect x="890.1" y="1320.9" width="4" height="3.2"/>
<rect x="891.5" y="1319.9" width="4" height="3.2"/>
<rect x="892.8" y="1319.2" width="4" height="3.2"/>
<rect x="894.2" y="1318.5" width="4" height="3.2"/>
<rect x="895.6" y="1318.3" width="4" height="3.2"/>
<rect x="896.9" y="1318.0" width="4" height="3.2"/>
<rect x="898.3" y="1317.3" width="4" height="3.2"/>
<rect x="899.7" y="1316.6" width="4" height="3.2"/>
<rect x="901.1" y="1315.9" width="4" height="3.2"/>
<rect x="902.4" y="1315.2" width="4" height="3.2"/>
<rect x="903.8" y="1314.1" width="4" height="3.2"/>
<rect x="905.2" y="1313.0" width="4" height="3.2"/>
<rect x="906.6" y="1312.6" width="4" height="3.2"/>
<rect x="907.9" y="1312.2" width="4" height="3.2"/>
<rect x="909.3" y="1311.8" width="4" height="3.2"/>
<rect x="910.7" y="1311.4" width="4" height="3.2"/>
<rect x="912.1" y="1309.8" width="4" height="3.2"/>
<rect x="913.4" y="1308.1" width="4" height="3.2"/>
<rect x="916.2" y="1300.7" width="4" height="3.2"/>
<rect x="918.9" y="1296.0" width="4" height="3.2"/>
<rect x="920.3" y="1294.6" width="4" height="3.2"/>
<rect x="921.7" y="1293.3" width="4" height="3.2"/>
<rect x="924.4" y="1288.3" width="4" height="3.2"/>
<rect x="927.2" y="1278.7" width="4" height="3.2"/>
<rect x="928.5" y="1277.6" width="4" height="3.2"/>
<rect x="929.9" y="1276.5" width="4" height="3.2"/>
<rect x="931.8" y="1264.2" width="4" height="3.2"/>
<ellipse cx="918.9" cy="1302.3" rx="7.8" ry="6.4" fill="#d670c4"/>
<ellipse cx="919.1" cy="1302.3" rx="1.9" ry="1.2" fill="#fff" opacity="0.6"/>
<ellipse cx="919" cy="1302.3" rx="1.6" ry="0.9" fill="#111"/>
</g>
<g id="demos">
<rect x="31.3" y="1398.6" width="84" height="70.2" rx="1.2" fill="#fff" stroke="#d88a8a" stroke-width="1.1"/>
<path d="M62.9 1366.6 C60.6 1369 59.6 1373 60.4 1376.5 C61.2 1380 64.2 1383.5 65.2 1387.5 C66 1391 65 1394.5 63.2 1397.6 L88.2 1397.6 C90.2 1394.5 91.4 1391 90.6 1387.5 C89.8 1384 86.8 1381 85.6 1377.5 C84.6 1374 85.2 1369.5 87.6 1366.6 Z" fill="#a80000"/>
<text x="73.3" y="1438.5" font-size="20.4" font-weight="bold" fill="#a00000" stroke="#a00000" stroke-width="0.45" text-anchor="middle" transform="translate(73.3 0) scale(0.705 1) translate(-73.3 0)">Demos-UR</text>
</g>
<g transform="translate(155 1365) scale(0.075758)" fill="#b5152d" stroke="none">
<ellipse cx="545" cy="590" rx="192" ry="228" fill="none" stroke="#b5152d" stroke-width="20" stroke-dasharray="2 34" stroke-linecap="round"/>
<ellipse cx="545" cy="590" rx="168" ry="203" fill="none" stroke="#b5152d" stroke-width="12"/>
<path d="M545 590 L535 395 L425 450 Z M545 590 L700 598 L690 455 Z M545 590 L555 790 L665 730 Z M545 590 L385 582 L400 725 Z"/>
<path d="M520 420 l50 0 l-10 60 l-30 0 z M520 700 l50 0 l-10 60 l-30 0 z M430 560 l0 50 l60 -10 l0 -30 z M650 560 l0 50 l-60 -10 l0 -30 z"/>
<path d="M440 285 Q545 245 650 285 L640 250 L655 215 L620 235 L615 195 L588 225 L570 178 L545 215 L520 178 L502 225 L475 195 L470 235 L435 215 L450 250 Z"/>
<path d="M545 285 L575 320 L558 320 L558 360 L532 360 L532 320 L515 320 Z"/>
<path d="M470 90 C430 110 470 145 500 160 C525 175 500 200 455 195 C415 190 385 200 385 240" fill="none" stroke="#b5152d" stroke-width="34" stroke-linecap="round"/>
<path d="M620 90 C660 110 620 145 590 160 C565 175 590 200 635 195 C675 190 705 200 705 240" fill="none" stroke="#b5152d" stroke-width="34" stroke-linecap="round"/>
<path d="M180 395 C215 380 240 360 245 320 C250 255 280 205 330 200 C390 195 420 235 420 280 C420 320 390 345 360 340 C390 310 385 265 345 255 C300 250 285 290 290 330 C295 380 260 410 215 410 Z"/>
<path d="M910 395 C875 380 850 360 845 320 C840 255 810 205 760 200 C700 195 670 235 670 280 C670 320 700 345 730 340 C700 310 705 265 745 255 C790 250 805 290 800 330 C795 380 830 410 875 410 Z"/>
<path d="M340 300 C360 270 420 265 440 300 C455 330 430 360 400 350 C380 345 360 330 340 300 Z M750 300 C730 270 670 265 650 300 C635 330 660 360 690 350 C710 345 730 330 750 300 Z"/>
<path d="M330 470 C320 430 260 420 225 450 C190 480 200 540 245 545 C280 548 295 510 270 495" fill="none" stroke="#b5152d" stroke-width="34" stroke-linecap="round"/>
<path d="M760 470 C770 430 830 420 865 450 C900 480 890 540 845 545 C810 548 795 510 820 495" fill="none" stroke="#b5152d" stroke-width="34" stroke-linecap="round"/>
<path d="M270 580 L305 550 L305 568 L345 568 L345 592 L305 592 L305 610 Z M820 580 L785 550 L785 568 L745 568 L745 592 L785 592 L785 610 Z"/>
<path d="M360 880 C330 840 300 800 250 790 L80 770 L240 760 L120 700 L250 720 L130 640 C140 600 190 585 230 600 C260 560 320 590 330 640 C340 700 350 760 400 820 C420 850 400 890 360 880 Z"/>
<path d="M730 880 C760 840 790 800 840 790 L1000 770 L850 760 L970 700 L840 720 L960 640 C950 600 900 585 860 600 C830 560 770 590 760 640 C750 700 740 760 690 820 C670 850 690 890 730 880 Z"/>
<path d="M250 830 C260 880 320 900 360 880 C400 860 420 880 440 910" fill="none" stroke="#b5152d" stroke-width="30" stroke-linecap="round"/>
<path d="M840 830 C830 880 770 900 730 880 C690 860 670 880 650 910" fill="none" stroke="#b5152d" stroke-width="30" stroke-linecap="round"/>
<path d="M528 820 L562 820 L562 915 L590 915 L590 945 L562 945 L562 1000 L528 1000 L528 945 L500 945 L500 915 L528 915 Z"/>
</g>
<g fill="#b5152d">
<text x="144" y="1457.3" font-size="14.6" font-weight="bold" transform="translate(144 0) scale(0.955 1) translate(-144 0)">Universidad del</text>
<text x="142.4" y="1486.6" font-size="32.6" font-weight="bold" transform="translate(142.4 0) scale(0.885 1) translate(-142.4 0)">Rosario</text>
</g>
<text x="778" y="1480.8" font-size="14.2">Hecho con philcarto http://philcarto.free.fr</text>
</svg>
</body></html>
